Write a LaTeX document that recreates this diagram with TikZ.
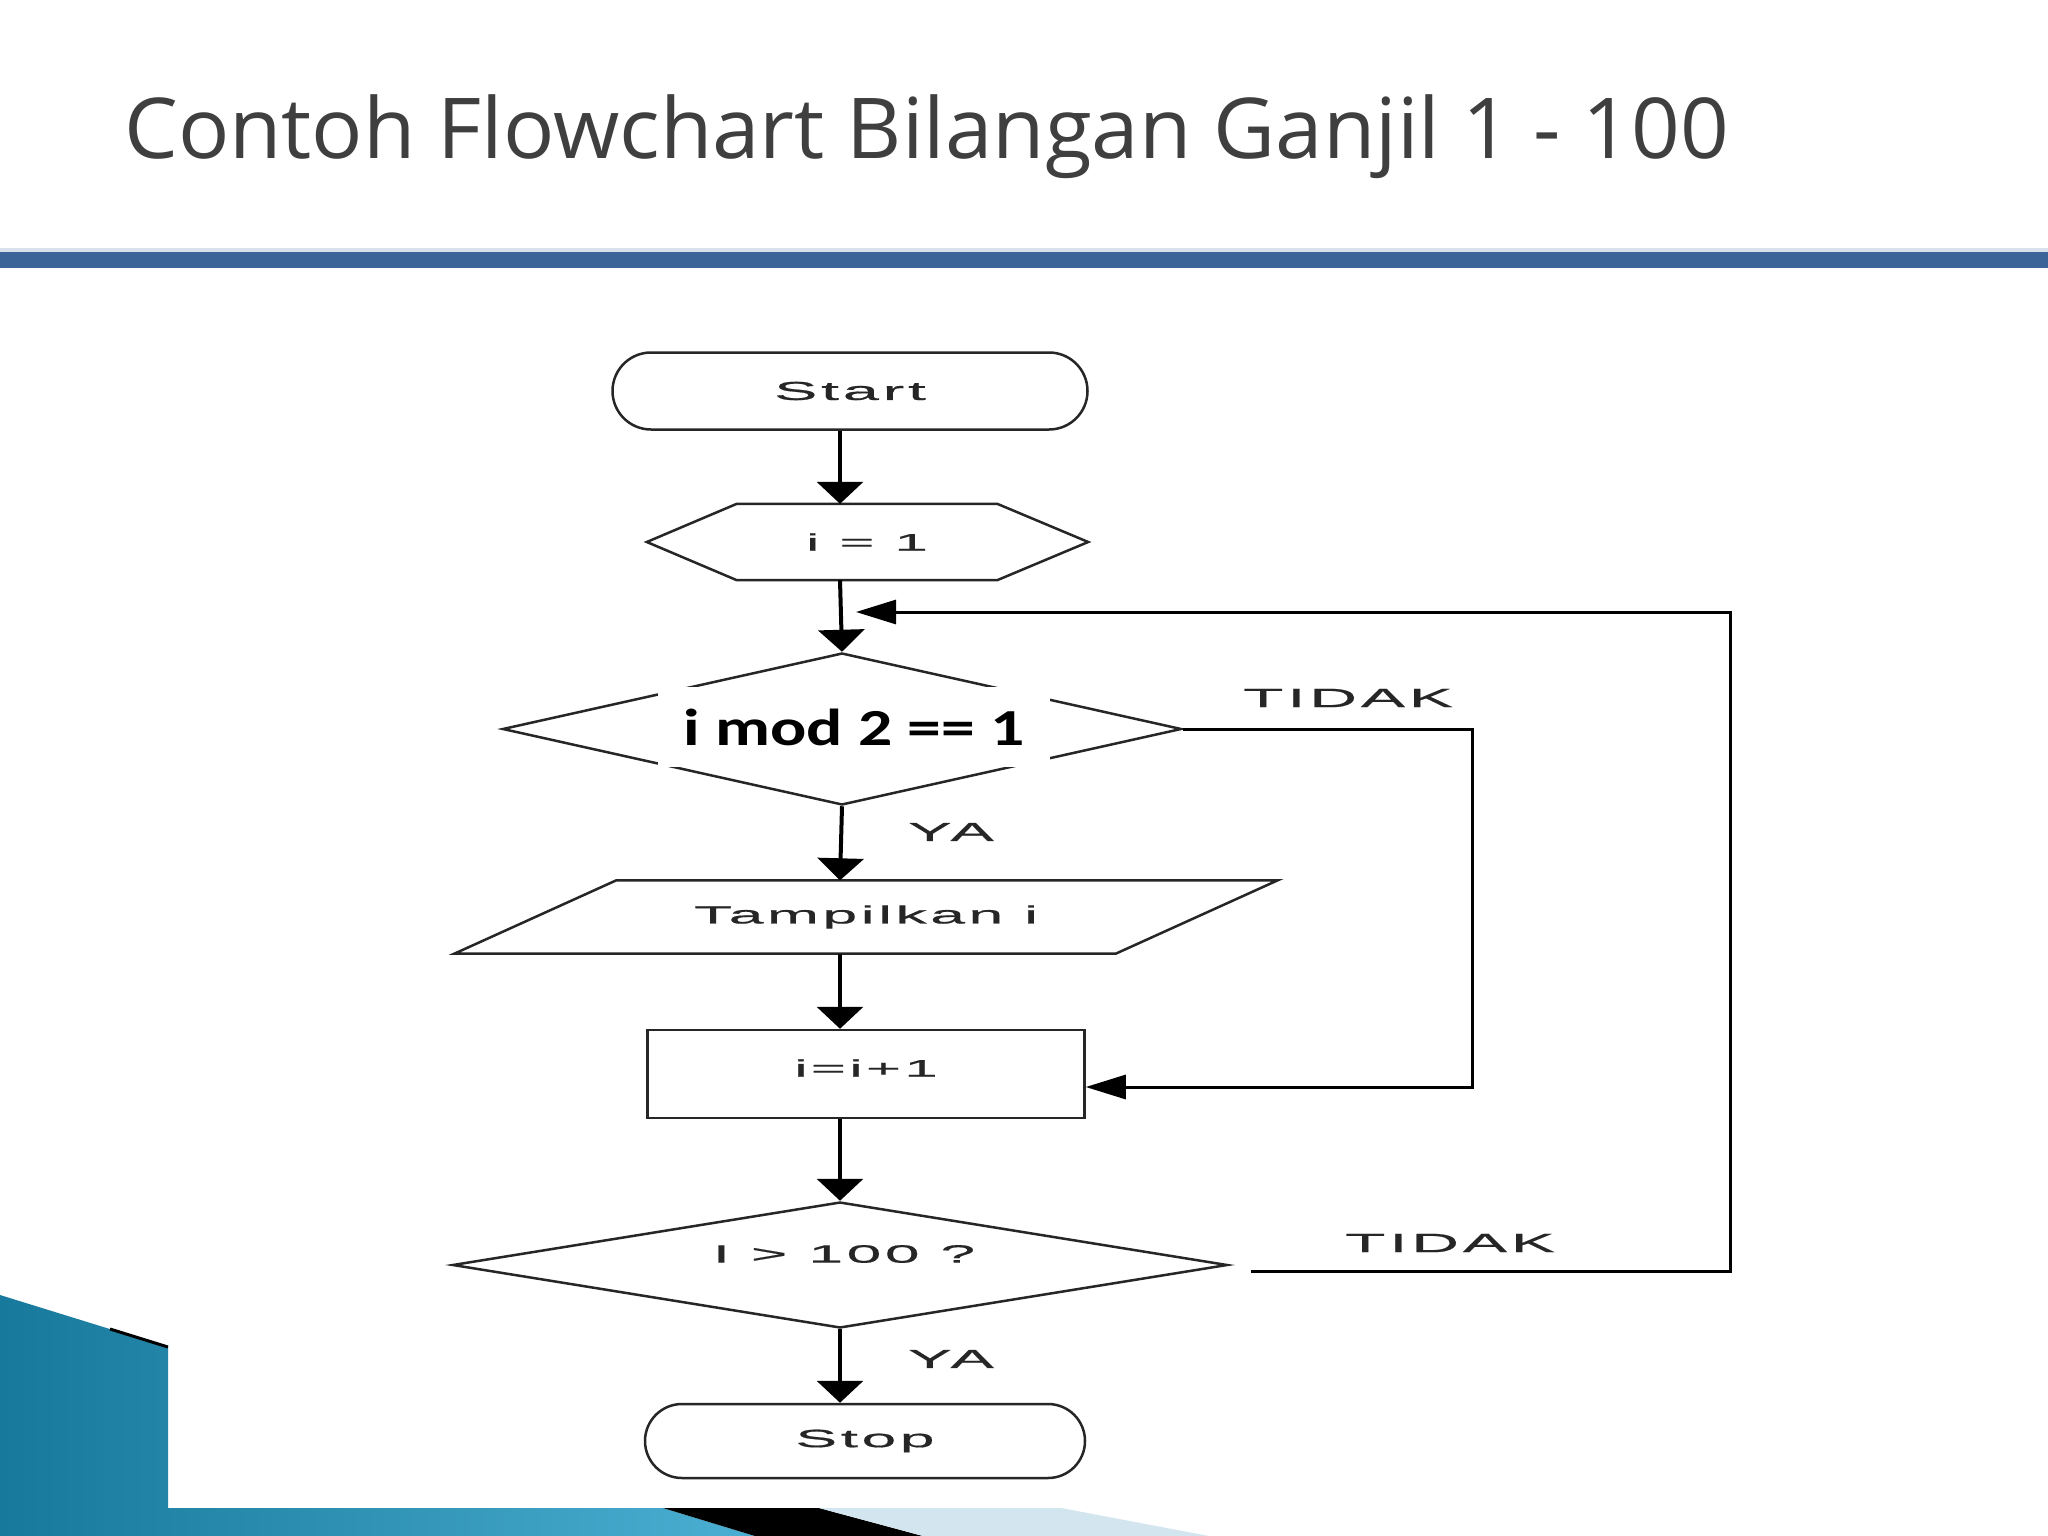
\documentclass[tikz,border=0pt]{standalone}
\usepackage{fontspec}
\setmainfont{Liberation Sans}
\newfontfamily\judulfont[FakeStretch=1.015]{Open Sans}
\newfontfamily\flowfont[FakeStretch=2.5,LetterSpace=14,FakeBold=0.6]{Liberation Sans}
\newfontfamily\tebalfont[FakeStretch=1.3]{Carlito}
\usetikzlibrary{arrows.meta,shapes.geometric,shapes.misc}
\definecolor{barbiru}{HTML}{3B6499}
\definecolor{tealgelap}{HTML}{17799C}
\definecolor{tealterang}{HTML}{4AAFD2}
\definecolor{birumuda}{HTML}{D3E5EE}
\definecolor{abu}{HTML}{3F3F3F}
\begin{document}
\begin{tikzpicture}[x=1pt, y=-1pt,
	bentuk/.style={draw=black!85, line width=2.5pt, inner sep=0pt},
	teks/.style={font=\flowfont\fontsize{#1}{#1}\selectfont, text=black!85},
	teks/.default=24,
	panahv/.style={line width=4pt, -{Triangle[width=46pt,length=22pt]}},
	panahh/.style={line width=3pt, -{Triangle[width=24pt,length=40pt]}}]
	%Fond de la diapositive
	\useasboundingbox (0,0) rectangle (2048,1536);
	\fill[white] (0,0) rectangle (2048,1536);
	\fill[barbiru!20] (0,248) rectangle (2048,252);
	\fill[barbiru] (0,252) rectangle (2048,268);
	\shade[left color=tealgelap, right color=tealterang] (0,1295) -- (168,1347) -- (168,1508) -- (663,1508) -- (755,1536) -- (0,1536) -- cycle;
	\draw[line width=3pt] (110,1329) -- (168,1347);
	\fill[black] (663,1508) -- (819,1508) -- (923,1536) -- (755,1536) -- cycle;
	\fill[birumuda] (819,1508) -- (1061,1508) -- (1209,1536) -- (923,1536) -- cycle;
	\node[anchor=base west, inner sep=0pt, text=abu, font=\judulfont\fontsize{84}{96}\selectfont] (judul) at (124,158) {Contoh Flowchart Bilangan Ganjil 1 - 100};
	%Noeuds du flowchart
	\coordinate (axe) at (840,0);
	\node[bentuk, rounded rectangle, minimum width=475pt, minimum height=77pt, teks=26] (start) at (850,391) {Start};
	\node[inner sep=0pt, minimum width=260pt, minimum height=76pt, teks] (init) at (867,542) {i = 1};
	\draw[bentuk] (init.north west) -- (init.north east) -- ([xshift=91pt]init.east) -- (init.south east) -- (init.south west) -- ([xshift=-90pt]init.west) -- cycle;
	\node[bentuk, diamond, minimum width=679pt, minimum height=152pt] (cek) at (842,729) {};
	\node[fill=white, inner sep=0pt, minimum width=392pt, minimum height=80pt, font=\tebalfont\bfseries\fontsize{52}{56}\selectfont] (cekteks) at (854,727) {i mod 2 == 1};
	\node[inner sep=0pt, minimum width=661pt, minimum height=73pt, teks=25] (tampil) at (866,917) {\raisebox{4pt}{Tampilkan i}};
	\draw[bentuk] ([xshift=81pt]tampil.north west) -- ([xshift=81pt]tampil.north east) -- ([xshift=-81pt]tampil.south east) -- ([xshift=-81pt]tampil.south west) -- cycle;
	\node[bentuk, minimum width=437pt, minimum height=88pt, teks] (inc) at (866,1074) {\raisebox{12pt}{i=i+1}};
	\node[bentuk, diamond, minimum width=775pt, minimum height=126pt] (batas) at (840,1265) {};
	\node[teks=25] (batasteks) at (844,1254) {I > 100 ?};
	\node[bentuk, rounded rectangle, minimum width=440pt, minimum height=74pt, teks=25] (stop) at (865,1441) {Stop};
	%Etiquettes
	\node[teks=26] (ya1) at (951,832) {YA};
	\node[teks=26] (ya2) at (951,1359) {YA};
	\node[teks=26.5] (tidak1) at (1348,698) {TIDAK};
	\node[teks=26.5] (tidak2) at (1450,1243) {TIDAK};
	%Fleches
	\coordinate (kanan1) at (1472,729);
	\coordinate (kanan2) at (1730,1271);
	\coordinate (masuk) at (856,612);
	\draw[panahv] (start.south -| axe) -- (init.north -| axe);
	\draw[panahv] (init.south -| axe) -- (cek.north);
	\draw[panahv] (cek.south) -- (tampil.north -| axe);
	\draw[panahv] (tampil.south -| axe) -- (inc.north -| axe);
	\draw[panahv] (inc.south -| axe) -- (batas.north);
	\draw[panahv] (batas.south) -- (stop.north -| axe);
	\draw[panahh] (cek.east) -- (kanan1) |- ([yshift=-13pt]inc.east);
	\draw[panahh] ([xshift=22pt,yshift=-6pt]batas.east) -- (kanan2) |- (masuk);
\end{tikzpicture}
\end{document}
